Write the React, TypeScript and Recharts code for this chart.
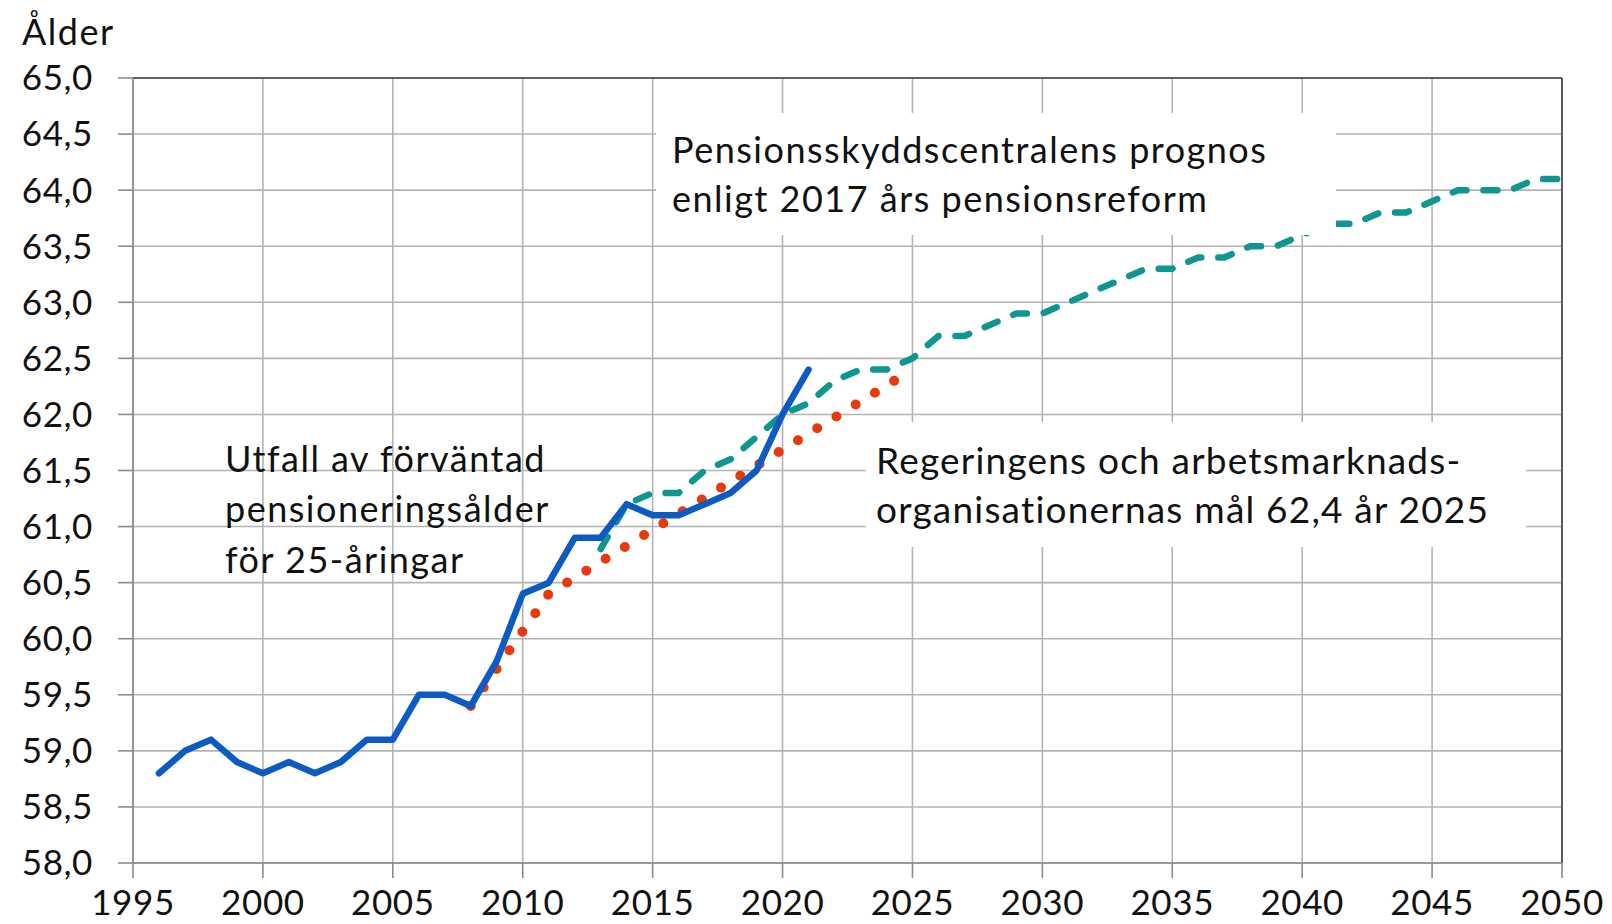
import React from "react";
import {
  LineChart,
  Line,
  XAxis,
  YAxis,
  CartesianGrid,
  ReferenceLine,
} from "recharts";

// utfall (förväntad pensioneringsålder för 25-åringar)
const actualYears = [
  1996, 1997, 1998, 1999, 2000, 2001, 2002, 2003, 2004, 2005, 2006, 2007, 2008,
  2009, 2010, 2011, 2012, 2013, 2014, 2015, 2016, 2017, 2018, 2019, 2020, 2021,
];
const actualValues = [
  58.8, 59.0, 59.1, 58.9, 58.8, 58.9, 58.8, 58.9, 59.1, 59.1, 59.5, 59.5, 59.4,
  59.8, 60.4, 60.5, 60.9, 60.9, 61.2, 61.1, 61.1, 61.2, 61.3, 61.5, 62.0, 62.4,
];

// Pensionsskyddscentralens prognos
const forecastYears = [
  2013, 2014, 2015, 2016, 2017, 2018, 2019, 2020, 2021, 2022, 2023, 2024, 2025,
  2026, 2027, 2028, 2029, 2030, 2031, 2032, 2033, 2034, 2035, 2036, 2037, 2038,
  2039, 2040, 2041, 2042, 2043, 2044, 2045, 2046, 2047, 2048, 2049, 2050,
];
const forecastValues = [
  60.8, 61.2, 61.3, 61.3, 61.5, 61.6, 61.8, 62.0, 62.1, 62.3, 62.4, 62.4, 62.5,
  62.7, 62.7, 62.8, 62.9, 62.9, 63.0, 63.1, 63.2, 63.3, 63.3, 63.4, 63.4, 63.5,
  63.5, 63.6, 63.7, 63.7, 63.8, 63.8, 63.9, 64.0, 64.0, 64.0, 64.1, 64.1,
];

// målbana 62,4 år 2025
const targetYears = [2008, 2011, 2025];
const targetValues = [59.4, 60.4, 62.4];

const xTicks = [1995, 2000, 2005, 2010, 2015, 2020, 2025, 2030, 2035, 2040, 2045, 2050];
const yTicks = [58, 58.5, 59, 59.5, 60, 60.5, 61, 61.5, 62, 62.5, 63, 63.5, 64, 64.5, 65];

const toRows = (years: number[], values: number[]) =>
  years.map((year, i) => ({ year, value: values[i] }));

const actualData = toRows(actualYears, actualValues);
const forecastData = toRows(forecastYears, forecastValues);
const targetData = toRows(targetYears, targetValues);

const FONT = "Lato, 'Noto Sans', sans-serif";
const tickStyle = { fontFamily: FONT, fontSize: 35, fill: "#111", letterSpacing: 0.6 };

const App = () => {
  return (
    <div style={{ position: "absolute", left: 0, top: 0, width: 1612, height: 924, background: "#fff" }}>
      <LineChart
        width={1612}
        height={924}
        margin={{ top: 78, right: 50, bottom: 0, left: 0 }}
      >
        <CartesianGrid stroke="#B3B3B3" strokeWidth={1.6} />
        <XAxis
          dataKey="year"
          type="number"
          domain={[1995, 2050]}
          ticks={xTicks}
          allowDataOverflow
          height={61}
          tickSize={15}
          tickMargin={12}
          stroke="#8A8A8A"
          strokeWidth={1.6}
          tick={tickStyle}
        />
        <YAxis
          type="number"
          domain={[58, 65]}
          ticks={yTicks}
          allowDataOverflow
          width={133}
          tickSize={15}
          tickMargin={25}
          stroke="#8A8A8A"
          strokeWidth={1.6}
          tick={tickStyle}
          tickFormatter={(v: number) => v.toFixed(1).replace(".", ",")}
        />
        <ReferenceLine y={65} stroke="#404040" strokeWidth={1.6} />
        <ReferenceLine x={2050} stroke="#404040" strokeWidth={1.6} />
        <Line
          data={forecastData}
          dataKey="value"
          type="linear"
          stroke="#0E968F"
          strokeWidth={6.5}
          strokeDasharray="14 17"
          strokeLinecap="round"
          dot={false}
          activeDot={false}
          isAnimationActive={false}
        />
        <Line
          data={targetData}
          dataKey="value"
          type="linear"
          stroke="#E8390D"
          strokeWidth={10}
          strokeDasharray="0 22.6"
          strokeLinecap="round"
          dot={false}
          activeDot={false}
          isAnimationActive={false}
        />
        <Line
          data={actualData}
          dataKey="value"
          type="linear"
          stroke="#0B5BC3"
          strokeWidth={6.5}
          strokeLinejoin="round"
          strokeLinecap="round"
          dot={false}
          activeDot={false}
          isAnimationActive={false}
        />
      </LineChart>
      {/* texter ovanpå diagrammet */}
      <svg
        width={1612}
        height={924}
        style={{ position: "absolute", left: 0, top: 0, pointerEvents: "none" }}
        fontFamily={FONT}
        fill="#111"
      >
        <text x={22} y={45} fontSize={36} letterSpacing={1.5}>Ålder</text>
        <rect x={656} y={113} width={680} height={122} fill="#fff" />
        <g fontSize={36} letterSpacing={1.5}>
          <text x={672} y={163}>Pensionsskyddscentralens prognos</text>
          <text x={672} y={212}>enligt 2017 års pensionsreform</text>
        </g>
        <rect x={866} y={422} width={660} height={125} fill="#fff" />
        <g fontSize={37} letterSpacing={1.2}>
          <text x={876} y={474}>Regeringens och arbetsmarknads-</text>
          <text x={876} y={523}>organisationernas mål 62,4 år 2025</text>
        </g>
        <g fontSize={36} letterSpacing={1.5}>
          <text x={225} y={472}>Utfall av förväntad</text>
          <text x={225} y={522}>pensioneringsålder</text>
          <text x={225} y={573}>för 25-åringar</text>
        </g>
      </svg>
    </div>
  );
};

export default App;
